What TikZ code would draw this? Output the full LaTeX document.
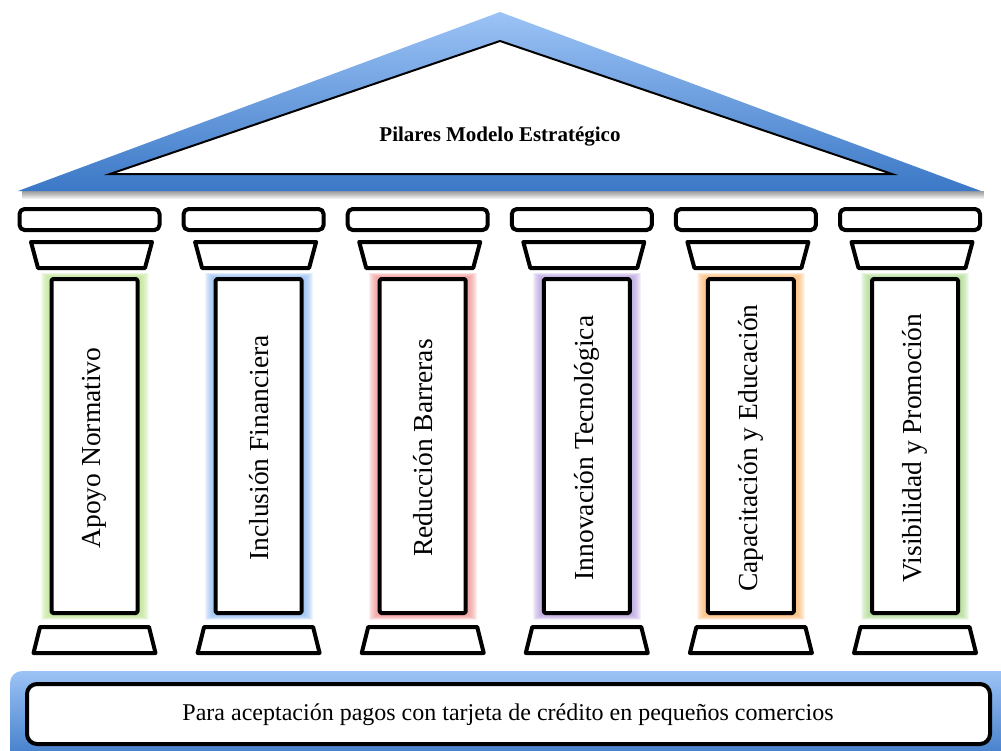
\documentclass[tikz,border=0pt]{standalone}
\usepackage{fontspec}
\setmainfont{Liberation Serif}
\usetikzlibrary{calc}

\definecolor{roofLight}{HTML}{9CC3F6}
\definecolor{roofDark}{HTML}{3B78C6}
\definecolor{glowA}{HTML}{B5E085}
\definecolor{glowB}{HTML}{88B5F0}
\definecolor{glowC}{HTML}{EE8A8A}
\definecolor{glowD}{HTML}{B096DA}
\definecolor{glowE}{HTML}{FBB060}
\definecolor{glowF}{HTML}{A3D685}

\tikzset{
  outline/.style={draw=black, fill=white, line width=4pt, line join=round},
  capbox/.style={outline, rounded corners=5pt},
  pillartext/.style={rotate=90, font=\fontsize{27.5}{31}\selectfont, inner sep=0pt},
}

\begin{document}
\begin{tikzpicture}[x=1pt, y=-1pt]
\useasboundingbox (0,0) rectangle (1001,750);

% soft shadow under the roof
\foreach \k in {1,...,8}
  \fill[black, opacity=0.06] (22,191) -- (984,191) -- (984,{191+\k}) -- (22,{191+\k}) -- cycle;

% roof
\shade[top color=roofLight, bottom color=roofDark]
  (500,12) -- (981,191) -- (18,191) -- cycle;
\filldraw[fill=white, draw=black, line width=2pt, line join=miter]
  (500,41) -- (892,174) -- (110,174) -- cycle;
\node[font=\bfseries\fontsize{21}{25}\selectfont] (title) at (500,137) {Pilares Modelo Estratégico};

% pillars
\foreach \i/\gc/\lbl in {0/glowA/Apoyo Normativo,
                         1/glowB/Inclusión Financiera,
                         2/glowC/Reducción Barreras,
                         3/glowD/Innovación Tecnológica,
                         4/glowE/Capacitación y Educación,
                         5/glowF/Visibilidad y Promoción}{
  \pgfmathsetmacro\c{89.5+164.1*\i}
  \pgfmathsetmacro\s{\c+5}
  \pgfmathsetmacro\t{\c+2}
  % coloured glow around the shaft
  \foreach \k in {1,...,9}
    \fill[\gc, opacity=0.14] ({\s-45-\k},{277-\k*0.5}) rectangle ({\s+45+\k},{615+\k*0.5});
  % abacus
  \draw[capbox] ({\c-70},209) rectangle ({\c+70},230);
  % capital
  \draw[outline] ({\t-60.5},242) -- ({\t+60.5},242) -- ({\t+53.5},268) -- ({\t-53.5},268) -- cycle;
  % shaft
  \draw[outline, rounded corners=1.5pt] ({\s-43},279) rectangle ({\s+43},613);
  % base
  \draw[outline] ({\s-54.5},627) -- ({\s+54.5},627) -- ({\s+61},653) -- ({\s-61},653) -- cycle;
  \node[pillartext] (label\i) at (\s,448) {\lbl};
}

% foundation
\shade[top color=roofLight, bottom color=roofDark, rounded corners=12pt]
  (10,671) rectangle (1015,765);
\draw[outline, rounded corners=10pt] (27,684) rectangle (990,744);
\node[font=\fontsize{24}{28}\selectfont] (base) at (508,715)
  {Para aceptación pagos con tarjeta de crédito en pequeños comercios};
\end{tikzpicture}
\end{document}
